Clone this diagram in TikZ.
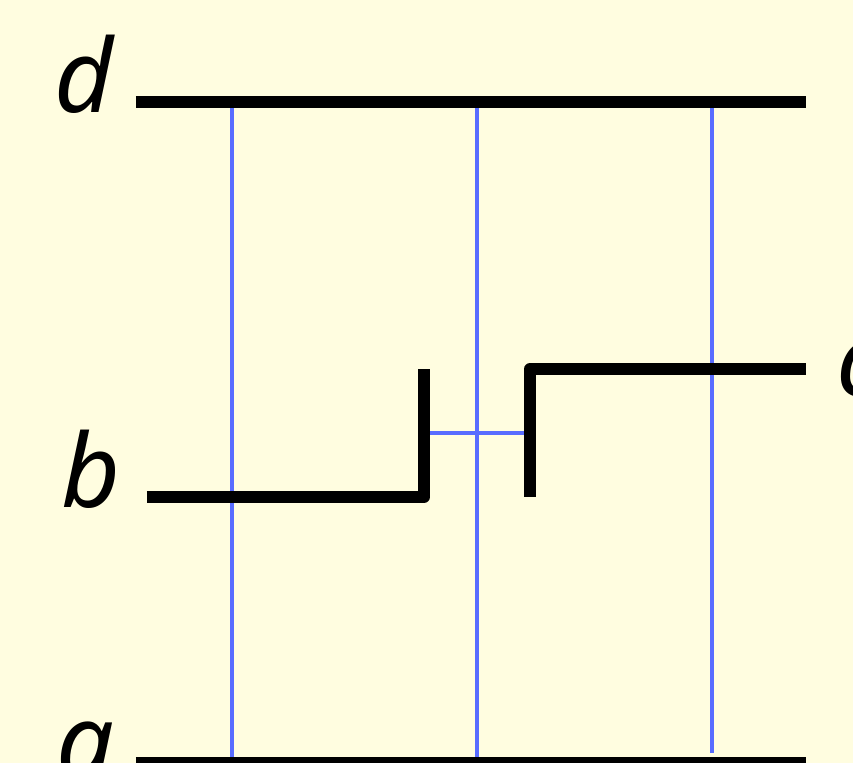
\documentclass[tikz,border=0pt]{standalone}
\usepackage{fontspec}
\setmainfont{Noto Sans}
\definecolor{paper}{RGB}{255,253,224}
\definecolor{wireblue}{RGB}{88,108,255}
\begin{document}
\begin{tikzpicture}[
		lbl/.style={anchor=base east, font=\fontsize{29}{34}\selectfont\itshape, inner sep=0pt},
		wire/.style={line width=3.4pt, line join=round},
		link/.style={line width=1.35pt, wireblue},
	]
	\fill[paper] (0,0) rectangle (8.53,7.63);
	\useasboundingbox (0,0) rectangle (8.53,7.63);
	% labels
	\node[lbl] (d) at (1.14, 6.50) {d};
	\node[lbl] (b) at (1.21, 2.55) {b};
	\node[lbl] (a) at (1.15, -0.15) {a};
	\node[lbl, anchor=base west] (c) at (8.36, 3.66) {c};
	% end points
	\coordinate (d1) at (1.36, 6.61);
	\coordinate (d2) at (8.06, 6.61);
	\coordinate (a1) at (1.36, 0);
	\coordinate (a2) at (8.06, 0);
	\coordinate (b1) at (1.47, 2.66);
	\coordinate (b2) at (4.24, 2.66);
	\coordinate (b3) at (4.24, 3.94);
	\coordinate (c1) at (5.30, 2.66);
	\coordinate (c2) at (5.30, 3.94);
	\coordinate (c3) at (8.06, 3.94);
	% blue links
	\draw[link] (2.32, 6.61) -- (2.32, 0);
	\draw[link] (4.77, 6.61) -- (4.77, 0);
	\draw[link] (7.12, 6.61) -- (7.12, 0.10);
	\draw[link] (4.24, 3.30) -- (5.30, 3.30);
	% wires
	\draw[wire] (d1) -- (d2);
	\draw[wire] (a1) -- (a2);
	\draw[wire] (b1) -- (b2) -- (b3);
	\draw[wire] (c1) -- (c2) -- (c3);
\end{tikzpicture}
\end{document}
